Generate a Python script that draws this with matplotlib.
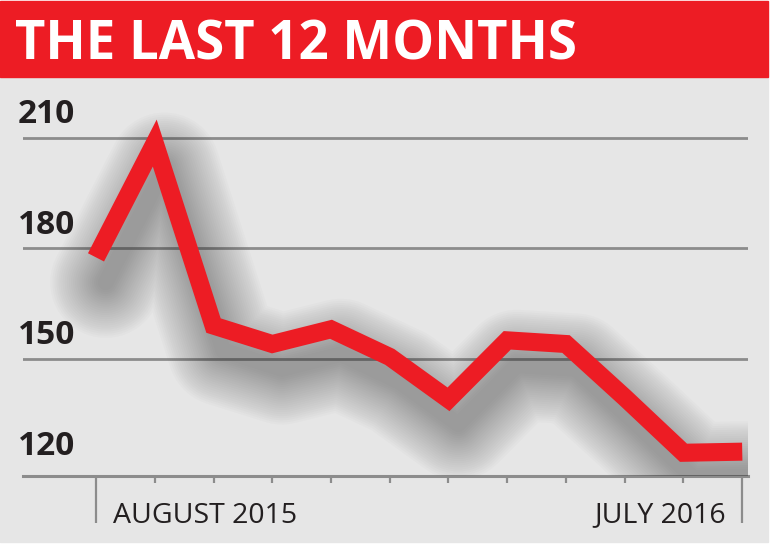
import matplotlib
matplotlib.use("Agg")
import matplotlib.pyplot as plt
import matplotlib.patheffects as pe
from matplotlib.patches import Rectangle

# data (monthly values, Aug 2015 - Jul 2016)
months = list(range(12))
values = [177.5, 208.5, 159, 154, 158, 150.5, 139, 155, 154, 139.5, 124.5, 124.8]
grid_levels = [150, 180, 210]
ytick_labels = ["120", "150", "180", "210"]
first_label = "AUGUST 2015"
last_label = "JULY 2016"
title = "THE LAST 12 MONTHS"

RED = "#ED1C24"
BG = "#E6E6E6"
GRID = "#8C8C8C"
TXT = "#231F20"

fig = plt.figure(figsize=(7.7, 5.55), dpi=100)
fig.patch.set_facecolor("white")

# gray panel and red banner (figure coords)
fig.patches.append(Rectangle((0, (555 - 542) / 555), 768 / 770, (542 - 77) / 555,
                             transform=fig.transFigure, color=BG, zorder=-5))
fig.patches.append(Rectangle((0, (555 - 77) / 555), 768 / 770, 76 / 555,
                             transform=fig.transFigure, color=RED, zorder=-5))
fig.text(15 / 770, (555 - 59) / 555, title, color="white", fontsize=38,
         fontfamily="Open Sans", fontweight="bold", ha="left", va="baseline")

ax = fig.add_axes([23 / 770, (555 - 476) / 555, 725 / 770, 386 / 555])
ax.set_facecolor("none")
ax.set_xlim(-1.2426, 11.098)
ax.set_ylim(118.2, 222.9)

for s in ["top", "left", "right"]:
    ax.spines[s].set_visible(False)
ax.spines["bottom"].set_color(GRID)
ax.spines["bottom"].set_linewidth(2.2)

for g in grid_levels:
    ax.axhline(g, color=GRID, lw=2.0, zorder=1)

# ticks: tall ones at the ends, short ones for months between
ax.set_yticks([])
ax.set_xticks([months[0], months[-1]])
ax.set_xticklabels([])
ax.tick_params(axis="x", which="major", length=34, width=1.6, color=GRID, direction="out")
ax.set_xticks(months[1:-1], minor=True)
ax.tick_params(axis="x", which="minor", length=5, width=1.6, color=GRID, direction="out")

# y labels sit above their gridlines
for lab in ytick_labels:
    v = max(float(lab), ax.get_ylim()[0])
    ax.annotate(lab, xy=(-5 / 725, v), xycoords=("axes fraction", "data"),
                xytext=(0, 10.5), textcoords="offset points", ha="left", va="baseline",
                fontsize=24, fontfamily="Open Sans", fontweight="bold", color=TXT)

ax.annotate(first_label, xy=(months[0], 0), xycoords=("data", "axes fraction"),
            xytext=(12, -33.5), textcoords="offset points", ha="left", va="baseline",
            fontsize=20.5, fontfamily="Open Sans", color=TXT)
ax.annotate(last_label, xy=(months[-1], 0), xycoords=("data", "axes fraction"),
            xytext=(-12, -33.5), textcoords="offset points", ha="right", va="baseline",
            fontsize=20.5, fontfamily="Open Sans", color=TXT)

# soft drop shadow built from many stacked translucent strokes
shadow = [pe.Stroke(offset=(7, -18), linewidth=w, foreground="#3a3a3a", alpha=0.018,
                    joinstyle="round", capstyle="round")
          for w in range(80, 10, -3)]
ax.plot(months, values, color=RED, lw=13, solid_capstyle="butt",
        solid_joinstyle="miter", zorder=3,
        path_effects=shadow + [pe.Normal()])

fig.savefig("out.png", dpi=100)
